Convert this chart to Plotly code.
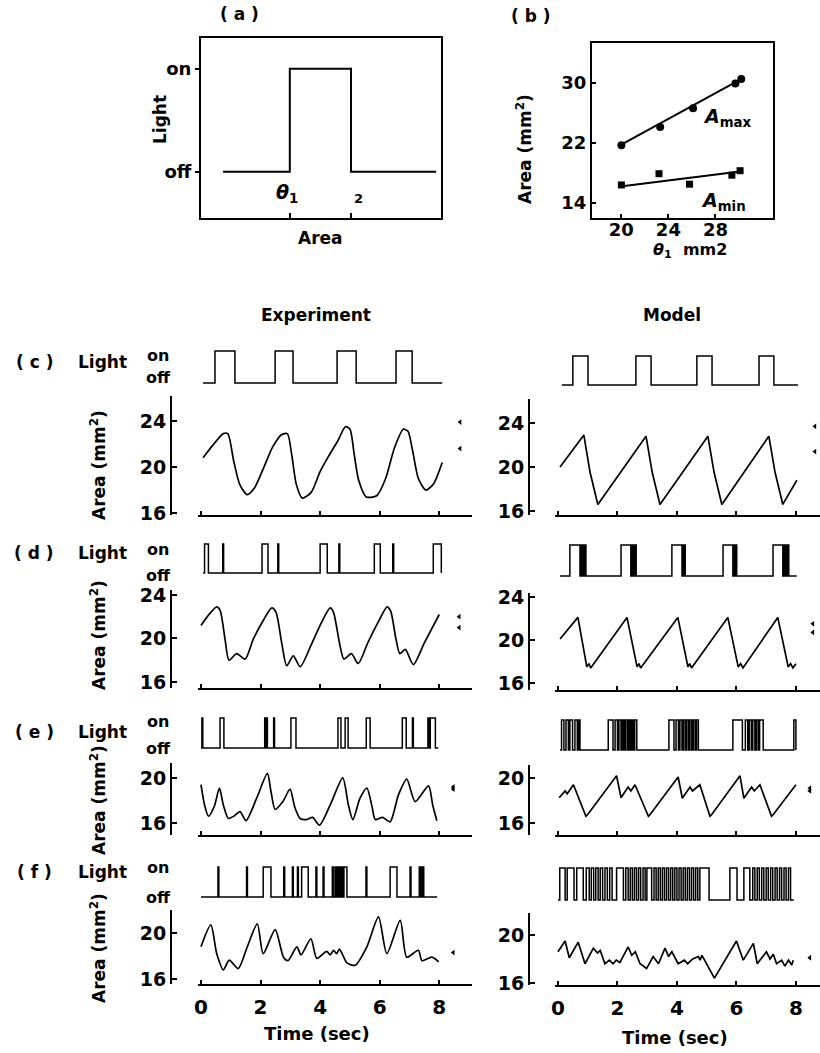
import plotly.graph_objects as go

W, H = 820, 1053
FONT = "DejaVu Sans"
FS = 17
LW = 1.7

# ---------------- data ----------------
# panel (a): light vs area (step)
A_AREA = [0.92, 3.7, 6.25, 9.8]
A_LIGHT = [0, 1, 0, 0]

# panel (b)
B_THETA_MAX = [20.0, 23.3, 26.1, 29.7, 30.2]
B_AMAX = [21.7, 24.1, 26.6, 29.9, 30.5]
B_THETA_MIN = [20.0, 23.2, 25.8, 29.4, 30.1]
B_AMIN = [16.4, 17.9, 16.5, 17.7, 18.3]
B_FITMAX_X = [19.8, 30.3]
B_FITMAX_Y = [21.6, 30.6]
B_FITMIN_X = [19.9, 30.1]
B_FITMIN_Y = [16.2, 18.2]

# row (c)
EXP_C_T = [0.07, 0.4, 0.75, 0.9, 1.1, 1.3, 1.55, 1.8, 2.1, 2.4, 2.7, 2.9, 3.05, 3.2, 3.4, 3.7, 4.0,
           4.3, 4.6, 4.85, 5.0, 5.15, 5.3, 5.55, 5.9, 6.2, 6.5, 6.8, 6.95, 7.1, 7.3, 7.55, 7.8, 8.1]
EXP_C_A = [20.8, 21.9, 22.9, 22.9, 20.5, 18.5, 17.6, 18.2, 19.9, 21.7, 22.8, 22.9, 21.0, 18.5, 17.3, 17.8, 19.6,
           21.0, 22.3, 23.5, 23.3, 21.0, 18.8, 17.4, 17.5, 19.0, 21.7, 23.3, 23.1, 21.5, 19.0, 18.0, 18.5, 20.4]
MOD_C_T = [0.07, 0.87, 1.08, 1.34, 2.96, 3.17, 3.43, 5.04, 5.25, 5.51, 7.09, 7.3, 7.56, 8.03]
MOD_C_A = [20.0, 22.9, 19.5, 16.6, 22.8, 19.5, 16.6, 22.8, 19.5, 16.6, 22.8, 19.5, 16.6, 18.8]
EXP_C_LIGHT = [(0.47, 1.14), (2.49, 3.09), (4.57, 5.21), (6.55, 7.09)]
MOD_C_LIGHT = [(0.50, 1.01), (2.62, 3.13), (4.67, 5.18), (6.76, 7.26)]
EXP_C_THR = [23.9, 21.6]
MOD_C_THR = [23.7, 21.4]

# row (d)
EXP_D_T = [0.0, 0.3, 0.53, 0.64, 0.81, 0.94, 1.2, 1.48, 1.75, 2.1, 2.38, 2.52, 2.71, 2.88, 3.1, 3.33, 3.7,
           4.0, 4.34, 4.45, 4.67, 4.8, 5.05, 5.28, 5.6, 5.95, 6.25, 6.37, 6.55, 6.68, 6.86, 7.13, 7.5, 8.0]
EXP_D_A = [21.2, 22.3, 22.9, 22.6, 19.9, 18.0, 18.6, 18.1, 19.9, 21.7, 22.8, 22.4, 19.6, 17.5, 18.4, 17.4, 19.4,
           21.2, 22.8, 22.4, 19.3, 18.1, 18.6, 17.7, 19.6, 21.5, 22.9, 22.5, 19.9, 18.6, 19.0, 17.6, 19.6, 22.2]
MOD_D_T = [0.07, 0.67, 0.97, 1.04, 1.1, 2.32, 2.66, 2.72, 2.78, 4.03, 4.37, 4.43, 4.49, 5.71, 6.06, 6.14,
           6.22, 7.39, 7.74, 7.82, 7.9, 8.0]
MOD_D_A = [20.1, 22.1, 17.5, 17.8, 17.4, 22.1, 17.5, 17.8, 17.4, 22.1, 17.5, 17.8, 17.4, 22.1, 17.5, 17.8,
           17.4, 22.1, 17.5, 17.8, 17.4, 17.8]
EXP_D_LIGHT = [(0.12, 0.25), (0.73, 0.76), (2.05, 2.25), (2.58, 2.61), (4.0, 4.24), (4.63, 4.66),
               (5.82, 6.02), (6.44, 6.47), (7.8, 8.07)]
MOD_D_LIGHT = [(0.40, 0.74), (0.79, 0.81), (0.86, 0.88), (0.92, 0.94), (2.12, 2.45), (2.5, 2.52),
               (2.56, 2.58), (2.61, 2.63), (3.83, 4.17), (4.21, 4.23), (4.26, 4.28), (5.55, 5.88),
               (5.93, 5.95), (5.99, 6.01), (7.23, 7.56), (7.61, 7.63), (7.67, 7.69), (7.74, 7.76)]
EXP_D_THR = [22.0, 21.0]
MOD_D_THR = [21.5, 20.7]

# row (e)
EXP_E_T = [0.0, 0.12, 0.25, 0.45, 0.62, 0.75, 0.92, 1.1, 1.31, 1.51, 1.87, 2.23, 2.35, 2.49, 2.75, 2.99,
           3.15, 3.33, 3.55, 3.75, 3.98, 4.34, 4.76, 4.95, 5.1, 5.34, 5.57, 5.74, 5.85, 6.1, 6.35, 6.63,
           6.91, 7.19, 7.64, 7.78, 7.92]
EXP_E_A = [19.4, 17.6, 16.6, 17.5, 19.1, 17.6, 16.4, 16.6, 17.0, 16.2, 18.2, 20.4, 18.8, 17.2, 17.9, 19.0,
           17.4, 16.4, 16.3, 16.5, 15.8, 17.6, 20.0, 17.6, 16.3, 18.2, 19.1, 17.5, 16.3, 16.5, 16.1, 18.5,
           19.9, 17.9, 19.3, 17.6, 16.2]
MOD_E_T = [0.04, 0.24, 0.31, 0.52, 0.94, 1.0, 1.97, 2.12, 2.36, 2.45, 2.59, 3.04, 3.1, 4.04, 4.18, 4.44,
           4.52, 4.77, 5.11, 5.17, 6.12, 6.25, 6.51, 6.6, 6.79, 7.18, 7.24, 8.0]
MOD_E_A = [18.25, 18.85, 18.6, 19.4, 16.6, 16.75, 20.2, 18.25, 19.2, 18.85, 19.4, 16.6, 16.75, 20.1, 18.2,
           19.2, 18.85, 19.4, 16.6, 16.75, 20.2, 18.2, 19.2, 18.85, 19.4, 16.6, 16.75, 19.4]
EXP_E_LIGHT = [(0.03, 0.06), (0.64, 0.77), (2.14, 2.17), (2.2, 2.23), (2.44, 2.47), (3.02, 3.19),
               (4.6, 4.7), (4.84, 4.94), (5.55, 5.68), (6.76, 6.89), (7.1, 7.13), (7.62, 7.66), (7.7, 7.87)]
MOD_E_LIGHT = [(0.12, 0.2), (0.27, 0.35), (0.4, 0.49), (0.57, 0.65), (0.7, 0.74),
               (1.69, 1.85), (1.92, 2.0), (2.05, 2.12), (2.17, 2.22), (2.27, 2.33), (2.38, 2.43),
               (2.48, 2.53), (2.58, 2.65),
               (3.73, 3.9), (3.97, 4.05), (4.1, 4.17), (4.22, 4.28), (4.33, 4.39), (4.44, 4.5),
               (4.55, 4.61), (4.66, 4.72),
               (5.88, 6.2), (6.3, 6.38), (6.43, 6.5), (6.55, 6.62), (6.67, 6.73), (6.78, 6.9),
               (7.93, 8.0)]
EXP_E_THR = [19.2, 19.0]
MOD_E_THR = [19.1, 18.85]

# row (f)
EXP_F_T = [0.0, 0.33, 0.53, 0.75, 0.95, 1.25, 1.54, 1.89, 2.09, 2.49, 2.77, 2.92, 3.22, 3.36, 3.69, 3.89,
           4.22, 4.34, 4.45, 4.55, 4.65, 4.9, 5.18, 5.57, 5.96, 6.24, 6.69, 6.91, 7.3, 7.42, 7.75, 7.98]
EXP_F_A = [18.8, 20.7, 18.2, 16.8, 17.65, 16.9, 18.7, 20.8, 18.2, 20.3, 17.9, 17.6, 18.8, 18.1, 19.5, 17.8,
           18.4, 18.1, 18.5, 18.2, 18.6, 17.4, 17.2, 18.8, 21.4, 18.2, 21.1, 17.9, 18.5, 17.6, 17.9, 17.5]
MOD_F_T = [0.0, 0.24, 0.38, 0.68, 0.91, 1.19, 1.33, 1.42, 1.58, 1.73, 1.85, 1.96, 2.08, 2.36, 2.48, 2.6,
           2.76, 2.98, 3.2, 3.38, 3.6, 3.72, 3.83, 4.04, 4.25, 4.36, 4.53, 4.72, 4.78, 4.84, 5.26, 6.0,
           6.23, 6.57, 6.7, 7.01, 7.13, 7.24, 7.35, 7.52, 7.63, 7.75, 7.86, 7.91]
MOD_F_A = [18.6, 19.5, 18.1, 19.4, 17.6, 18.9, 18.5, 18.7, 17.6, 17.9, 17.6, 17.9, 17.7, 19.0, 18.3, 18.6,
           17.6, 17.2, 18.2, 17.6, 18.9, 18.2, 18.6, 17.6, 17.9, 17.6, 18.0, 18.2, 17.9, 18.3, 16.4, 19.5,
           17.9, 19.3, 17.6, 18.6, 18.0, 18.4, 17.6, 17.9, 17.4, 17.9, 17.5, 17.9]
EXP_F_LIGHT = [(0.57, 0.6), (1.53, 1.56), (2.09, 2.35), (2.78, 2.81), (3.07, 3.1), (3.24, 3.27),
               (3.38, 3.6), (3.86, 3.89), (4.1, 4.13), (4.41, 4.44), (4.5, 4.53), (4.58, 4.62),
               (4.66, 4.69), (4.73, 4.76), (4.8, 4.9), (5.54, 5.57), (6.35, 6.58), (7.02, 7.05),
               (7.33, 7.36), (7.4, 7.43), (7.45, 7.48)]
MOD_F_LIGHT = [(0.06, 0.24), (0.31, 0.54), (0.63, 0.85), (0.95, 1.05), (1.12, 1.2), (1.27, 1.35),
               (1.42, 1.5), (1.58, 1.66), (1.74, 1.82), (1.97, 2.2), (2.28, 2.36), (2.43, 2.5),
               (2.57, 2.64), (2.71, 2.78), (2.86, 2.93), (2.99, 3.15), (3.23, 3.3), (3.37, 3.44),
               (3.51, 3.58), (3.65, 3.72), (3.79, 3.86), (3.93, 4.0), (4.07, 4.14), (4.21, 4.28),
               (4.35, 4.42), (4.49, 4.56), (4.63, 4.7), (4.77, 5.08), (5.78, 6.02), (6.25, 6.45),
               (6.55, 6.62), (6.7, 6.77), (6.85, 6.92), (7.0, 7.07), (7.15, 7.22), (7.3, 7.37),
               (7.45, 7.52), (7.6, 7.67), (7.75, 7.82)]
EXP_F_THR = [18.3]
MOD_F_THR = [18.1]

LIGHT_SPANS = {  # start, end of each light record
    "exp_c": (0.07, 8.1), "mod_c": (0.13, 8.07),
    "exp_d": (0.07, 8.07), "mod_d": (0.07, 8.03),
    "exp_e": (0.0, 7.97), "mod_e": (0.07, 8.0),
    "exp_f": (0.0, 7.93), "mod_f": (0.0, 7.93),
}
TIME_TICKS = [0, 2, 4, 6, 8]

# ---------------- figure ----------------
fig = go.Figure()
counter = [0]
black = "black"


def tfont(size=FS):
    return dict(family=FONT, size=size, color=black, weight="bold")


def new_axes(xpx, ypx, xr, yr, xo=None, yo=None):
    counter[0] += 1
    n = counter[0]
    s = "" if n == 1 else str(n)
    xa = dict(domain=[xpx[0] / W, xpx[1] / W], range=xr, anchor="y" + s, visible=False,
              showgrid=False, zeroline=False, automargin=False, fixedrange=True)
    ya = dict(domain=[1 - ypx[1] / H, 1 - ypx[0] / H], range=yr, anchor="x" + s, visible=False,
              showgrid=False, zeroline=False, automargin=False, fixedrange=True)
    if xo:
        xa.update(xo)
    if yo:
        ya.update(yo)
    fig.update_layout({"xaxis" + s: xa, "yaxis" + s: ya})
    return "x" + s, "y" + s


def line(x, y, xr, yr, shape="linear", width=LW, smoothing=None):
    ln = dict(color=black, width=width, shape=shape)
    if smoothing is not None:
        ln["smoothing"] = smoothing
    fig.add_trace(go.Scatter(x=x, y=y, mode="lines", line=ln, xaxis=xr, yaxis=yr,
                             showlegend=False, hoverinfo="skip"))


def light_xy(pulses, span):
    xs, ys = [span[0]], [0]
    for a, b in pulses:
        xs += [a, b]
        ys += [1, 0]
    xs.append(span[1])
    ys.append(0)
    return xs, ys


# panel (a)
ax_style = dict(visible=True, showline=True, linecolor=black, linewidth=2, mirror=True,
                ticks="inside", tickcolor=black, ticklen=5, tickwidth=1.5,
                tickfont=tfont(FS + 1))
xa_, ya_ = new_axes((201, 441), (38, 218), [0, 10], [-0.45, 1.3],
                    xo=dict(ax_style, tickvals=[3.7, 6.25], showticklabels=False),
                    yo=dict(ax_style, tickvals=[0, 1], ticktext=["off", "on"], ticks="outside",
                            ticklen=4))
line(A_AREA, A_LIGHT, xa_, ya_, shape="hv", width=2)

# panel (b)
xb, yb = new_axes((592, 773), (43, 218), [17.5, 32.9], [12.0, 35.3],
                  xo=dict(ax_style, tickvals=[20, 24, 28], ticklen=4, ticklabelstandoff=-6),
                  yo=dict(ax_style, tickvals=[14, 22, 30], ticklen=4))
line(B_FITMAX_X, B_FITMAX_Y, xb, yb, width=2)
line(B_FITMIN_X, B_FITMIN_Y, xb, yb, width=2)
fig.add_trace(go.Scatter(x=B_THETA_MAX, y=B_AMAX, mode="markers", xaxis=xb, yaxis=yb,
                         marker=dict(symbol="circle", size=8, color=black), showlegend=False))
fig.add_trace(go.Scatter(x=B_THETA_MIN, y=B_AMIN, mode="markers", xaxis=xb, yaxis=yb,
                         marker=dict(symbol="square", size=7, color=black), showlegend=False))

# lower rows
COLS = {
    "exp": dict(xdom=(198, 472), xr=[-0.1, 9.1], ypos=171),
    "mod": dict(xdom=(555, 820), xr=[-0.1, 8.81], ypos=529),
}
ROWS = [
    ("c", (351, 383), (356, 385), (396, 515), (399, 515), [15.83, 26.17], [15.64, 26.18], [16, 20, 24]),
    ("d", (544, 573), (545, 576), (590, 688), (593, 690), [15.45, 24.45], [15.35, 24.37], [16, 20, 24]),
    ("e", (718, 748), (720, 750), (763, 835), (765, 835), [14.93, 21.33], [14.93, 21.16], [16, 20]),
    ("f", (867, 897), (868, 900), (910, 984), (913, 985), [15.57, 22.0], [15.83, 21.83], [16, 20]),
]
DATA = {
    "exp_c": (EXP_C_T, EXP_C_A, EXP_C_LIGHT, EXP_C_THR, 8.7),
    "mod_c": (MOD_C_T, MOD_C_A, MOD_C_LIGHT, MOD_C_THR, 8.64),
    "exp_d": (EXP_D_T, EXP_D_A, EXP_D_LIGHT, EXP_D_THR, 8.67),
    "mod_d": (MOD_D_T, MOD_D_A, MOD_D_LIGHT, MOD_D_THR, 8.57),
    "exp_e": (EXP_E_T, EXP_E_A, EXP_E_LIGHT, EXP_E_THR, 8.47),
    "mod_e": (MOD_E_T, MOD_E_A, MOD_E_LIGHT, MOD_E_THR, 8.47),
    "exp_f": (EXP_F_T, EXP_F_A, EXP_F_LIGHT, EXP_F_THR, 8.47),
    "mod_f": (MOD_F_T, MOD_F_A, MOD_F_LIGHT, MOD_F_THR, 8.47),
}

for key, lexp, lmod, aexp, amod, rexp, rmod, yt in ROWS:
    for col, lpx, apx, yr in (("exp", lexp, aexp, rexp), ("mod", lmod, amod, rmod)):
        c = COLS[col]
        name = f"{col}_{key}"
        t, a, pulses, thr, thr_t = DATA[name]
        on, off = lpx
        pad = 0.25 * (off - on)
        xl, yl = new_axes(c["xdom"], (on - pad, off + pad), c["xr"], [-0.25, 1.25])
        lx, ly = light_xy(pulses, LIGHT_SPANS[name])
        line(lx, ly, xl, yl, shape="hv", width=1.5)
        last = key == "f"
        xo = dict(visible=True, showline=True, linecolor=black, linewidth=2, ticks="inside",
                  tickvals=TIME_TICKS, ticklen=4, tickwidth=1.5, tickcolor=black,
                  showticklabels=last, tickfont=tfont(20), ticklabelstandoff=4)
        yo = dict(visible=True, showline=True, linecolor=black, linewidth=2, ticks="inside",
                  tickvals=yt, ticklen=5, tickwidth=1.5, tickcolor=black, anchor="free",
                  position=c["ypos"] / W, tickfont=tfont(FS + 2))
        xa2, ya2 = new_axes(c["xdom"], apx, c["xr"], yr, xo=xo, yo=yo)
        if col == "exp":
            line(t, a, xa2, ya2, shape="spline", smoothing=0.7)
        else:
            line(t, a, xa2, ya2)
        fig.add_trace(go.Scatter(x=[thr_t] * len(thr), y=thr, mode="markers", xaxis=xa2, yaxis=ya2,
                                 marker=dict(symbol="triangle-left", size=5, color=black),
                                 showlegend=False, hoverinfo="skip"))

# ---------------- annotations ----------------
ann = []


def text(x, y, s, size=FS, angle=0, xanchor="center"):
    ann.append(dict(x=x / W, y=1 - y / H, xref="paper", yref="paper", text=s, showarrow=False,
                    textangle=angle, xanchor=xanchor, yanchor="middle", font=tfont(size)))


text(240, 14, "( a )")
text(531, 16, "( b )")
text(160, 120, "Light", angle=-90)
text(320, 238, "Area")
text(287, 193, "<i>θ</i><sub>1</sub>", size=19)
text(358, 198, "2", size=13)
text(524, 149, "Area (mm<sup>2</sup>)", angle=-90)
text(727, 117, "<i>A</i><sub>max</sub>", size=19)
text(723, 202, "<i>A</i><sub>min</sub>", size=19)
text(690, 250, "<i>θ</i><sub>1</sub>  mm2", size=16)
text(316, 315, "Experiment")
text(672, 315, "Model")

ROW_LABELS = [("( c )", 362, 355, 377, 465), ("( d )", 553, 549, 575, 635),
              ("( e )", 732, 721, 748, 800), ("( f )", 872, 867, 897, 948)]
for lab, ly, yon, yoff, yarea in ROW_LABELS:
    text(34, ly, lab)
    text(102, ly, "Light")
    text(158, yon, "on", size=16)
    text(158, yoff, "off", size=16)
    text(98, yarea, "Area (mm<sup>2</sup>)", angle=-90)

text(317, 1033, "Time (sec)", size=18)
text(675, 1037, "Time (sec)", size=18)

fig.update_layout(width=W, height=H, autosize=False,
                  margin=dict(l=0, r=0, t=0, b=0, pad=0, autoexpand=False),
                  paper_bgcolor="white", plot_bgcolor="rgba(0,0,0,0)", annotations=ann,
                  font=tfont(FS), showlegend=False)

fig.write_html("out.html", config={"displayModeBar": False, "responsive": False},
               post_script="document.body.style.margin='0px';document.body.style.overflow='hidden';")
